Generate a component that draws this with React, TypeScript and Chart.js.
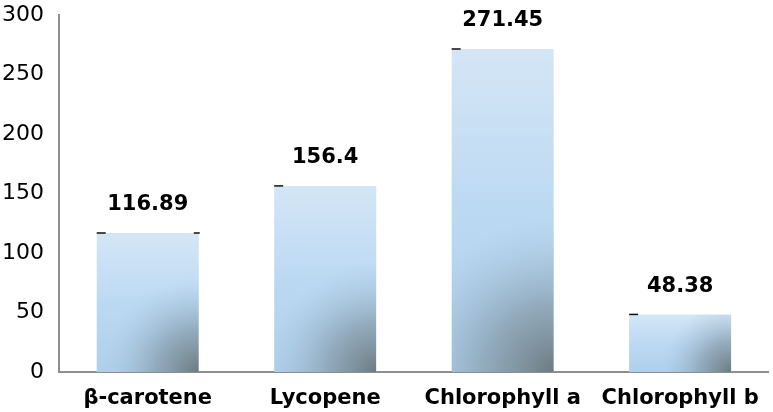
import React, { useEffect, useRef } from "react";
import { Chart, registerables } from "chart.js";

Chart.register(...registerables);

const categories = ["β-carotene", "Lycopene", "Chlorophyll a", "Chlorophyll b"];
const values = [116.89, 156.4, 271.45, 48.38];
const valueLabels = ["116.89", "156.4", "271.45", "48.38"];
const rightCaps = [true, false, false, false];
const yTicks = [0, 50, 100, 150, 200, 250, 300];

const FONT = "'DejaVu Sans', sans-serif";

const barDecor = {
  id: "barDecor",
  afterDatasetsDraw(chart: any) {
    const ctx = chart.ctx as CanvasRenderingContext2D;
    const meta = chart.getDatasetMeta(0);
    meta.data.forEach((el: any, i: number) => {
      const { x, y, base, width } = el.getProps(["x", "y", "base", "width"], true);
      const left = x - width / 2;
      const right = x + width / 2;
      const h = base - y;
      if (![x, y, base, width].every(Number.isFinite)) return;
      // radial darkening at bottom-right
      ctx.save();
      ctx.beginPath();
      ctx.rect(left, y, width, h);
      ctx.clip();
      const r = 0.5 * width + 0.32 * h;
      const g = ctx.createRadialGradient(right, base, 0, right, base, r);
      g.addColorStop(0, "rgba(105,118,122,0.95)");
      g.addColorStop(0.45, "rgba(125,145,158,0.6)");
      g.addColorStop(1, "rgba(165,195,220,0)");
      ctx.fillStyle = g;
      ctx.fillRect(left, y, width, h);
      ctx.restore();
      // error caps
      ctx.save();
      ctx.strokeStyle = "#111";
      ctx.lineWidth = 1.5;
      ctx.beginPath();
      ctx.moveTo(left, y);
      ctx.lineTo(left + 9, y);
      if (rightCaps[i]) {
        ctx.moveTo(right - 5, y);
        ctx.lineTo(right + 1, y);
      }
      ctx.stroke();
      ctx.restore();
      // value label
      ctx.save();
      ctx.fillStyle = "#000";
      ctx.font = `bold 21px ${FONT}`;
      ctx.textAlign = "center";
      ctx.textBaseline = "middle";
      ctx.fillText(valueLabels[i], x, y - 28);
      ctx.restore();
    });
  },
};

export default function App() {
  const ref = useRef<HTMLCanvasElement>(null);
  useEffect(() => {
    document.body.style.margin = "0";
    const canvas = ref.current!;
    const chart = new Chart(canvas, {
      type: "bar",
      data: {
        labels: categories,
        datasets: [
          {
            data: values,
            barPercentage: 0.575,
            categoryPercentage: 1,
            borderWidth: 0,
            backgroundColor: (c: any) => {
              const ch = c.chart;
              const ys = ch.scales?.y;
              if (!ys || c.raw === undefined) return "#c4def3";
              const top = ys.getPixelForValue(c.raw);
              const bot = ys.getPixelForValue(0);
              if (!Number.isFinite(top) || !Number.isFinite(bot) || top === bot) return "#c4def3";
              const g = ch.ctx.createLinearGradient(0, top, 0, bot);
              g.addColorStop(0, "#d4e6f6");
              g.addColorStop(0.5, "#bcd9f2");
              g.addColorStop(1, "#aecfeb");
              return g;
            },
          },
        ],
      },
      options: {
        animation: false,
        responsive: false,
        devicePixelRatio: 1,
        layout: { padding: { top: 0, right: 2, left: 0, bottom: 0 } },
        plugins: { legend: { display: false }, tooltip: { enabled: false } },
        scales: {
          x: {
            grid: { display: false, drawTicks: false },
            border: { display: true, color: "#8e8e8e", width: 2 },
            ticks: {
              color: "#000",
              font: { family: FONT, size: 21, weight: "bold" },
              padding: 14,
              maxRotation: 0,
              autoSkip: false,
            },
            afterFit: (s: any) => {
              s.height = 40;
            },
          },
          y: {
            min: 0,
            max: 300,
            afterBuildTicks: (s: any) => {
              s.ticks = yTicks.map((v) => ({ value: v }));
            },
            grid: { display: false, drawTicks: false },
            border: { display: true, color: "#8e8e8e", width: 2 },
            ticks: {
              color: "#000",
              font: { family: FONT, size: 22 },
              padding: 15,
            },
            afterFit: (s: any) => {
              s.width = 59;
              s.paddingTop = 15;
              s.paddingBottom = 0;
            },
          },
        },
      },
      plugins: [barDecor],
    });
    return () => chart.destroy();
  }, []);
  return (
    <div style={{ width: 773, height: 412 }}>
      <canvas ref={ref} width={773} height={412} style={{ display: "block" }} />
    </div>
  );
}
